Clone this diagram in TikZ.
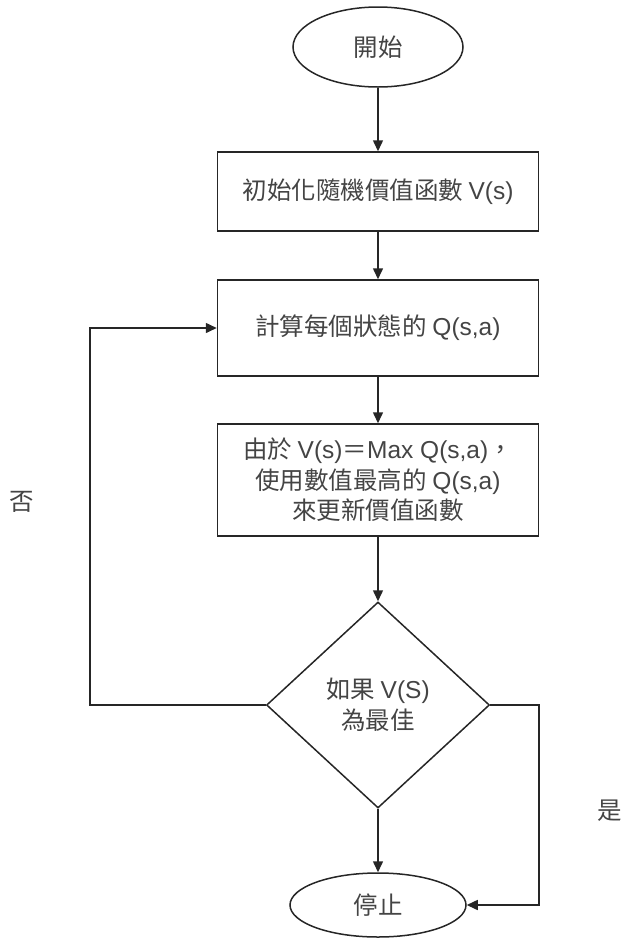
\documentclass[tikz,border=0pt]{standalone}
\usepackage{fontspec}
\setmainfont{Noto Sans CJK TC}
\newfontfamily\lat{Liberation Sans}
\usetikzlibrary{shapes.geometric,arrows.meta}
\definecolor{ln}{HTML}{262626}
\definecolor{tx}{HTML}{444444}
\begin{document}
\begin{tikzpicture}[x=1pt,y=-1pt,
  every node/.style={font=\fontsize{24.5}{30.5}\selectfont, text=tx},
  box/.style={draw=ln, line width=1.5pt, rectangle, minimum width=321pt, inner sep=0pt, align=center},
  term/.style={draw=ln, line width=1.5pt, ellipse, inner sep=0pt},
  dia/.style={draw=ln, line width=1.5pt, diamond, minimum width=223pt, minimum height=206pt, inner sep=0pt, align=center},
  arr/.style={draw=ln, line width=1.5pt, -{Triangle[length=11pt,width=10pt]}},
  lbl/.style={inner sep=0pt}]
\useasboundingbox (0,0) rectangle (624,938);
\node[term, minimum width=170pt, minimum height=80pt] (start) at (378,47) {開始};
\node[box, minimum height=79pt] (init) at (378,191.5) {初始化隨機價值函數 {\lat V(s)}};
\node[box, minimum height=96pt] (calc) at (378,328) {計算每個狀態的 {\lat Q(s,a)}};
\node[box, minimum height=112pt] (upd) at (378,480) {由於 {\lat V(s)}＝{\lat Max Q(s,a)}，\\使用數值最高的 {\lat Q(s,a)}\\來更新價值函數};
\node[dia] (dec) at (378,705) {如果 {\lat V(S)}\\為最佳};
\node[term, minimum width=176pt, minimum height=64pt] (stop) at (378,905) {停止};
\coordinate (r) at (539,705);
\coordinate (l) at (90,705);
\draw[arr] (start) -- (init);
\draw[arr] (init) -- (calc);
\draw[arr] (calc) -- (upd);
\draw[arr] (upd) -- (dec);
\draw[arr] (dec) -- (stop);
\draw[arr] (dec.east) -- (r) |- (stop.east);
\draw[arr] (dec.west) -- (l) |- (calc.west);
\node[lbl] (no) at (22,502) {否};
\node[lbl] (yes) at (610,811) {是};
\end{tikzpicture}
\end{document}
